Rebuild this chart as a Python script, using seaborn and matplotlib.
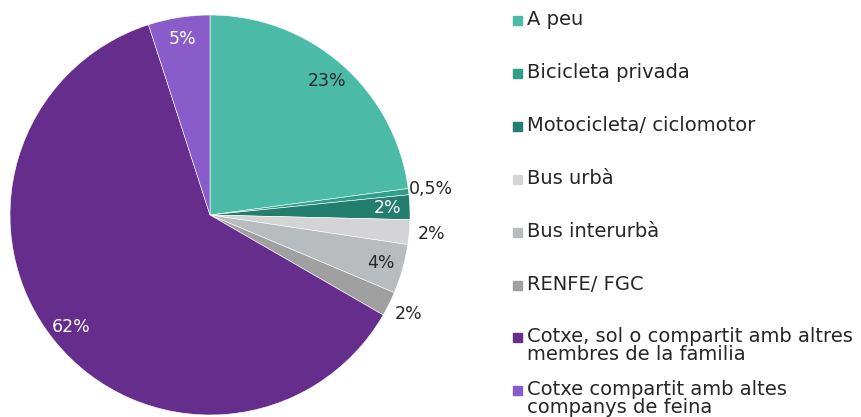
import numpy as np
import matplotlib
matplotlib.use("Agg")
import matplotlib.pyplot as plt
import matplotlib.patches as mpatches
import seaborn as sns

sns.set_theme(style="white")
plt.rcParams["font.family"] = ["DejaVu Sans"]

categories = [
    "A peu",
    "Bicicleta privada",
    "Motocicleta/ ciclomotor",
    "Bus urbà",
    "Bus interurbà",
    "RENFE/ FGC",
    "Cotxe, sol o compartit amb altres\nmembres de la familia",
    "Cotxe compartit amb altes\ncompanys de feina",
]
values = [23, 0.5, 2, 2, 4, 2, 62, 5]
pct_labels = ["23%", "0,5%", "2%", "2%", "4%", "2%", "62%", "5%"]
colours = [
    "#4bbba8", "#2f9e8a", "#237e6d", "#d4d4d6",
    "#b9bcbf", "#a0a0a0", "#652d8c", "#8a5cc9",
]
label_inside = [True, False, True, False, True, False, True, True]
label_colour = ["#262626", "#262626", "white", "#262626",
                "#262626", "#262626", "white", "white"]

W, H = 861, 417
fig = plt.figure(figsize=(W / 100, H / 100), dpi=100)
ax = fig.add_axes([10 / W, 2 / H, 400 / W, 400 / H])

wedges, _ = ax.pie(
    values,
    colors=colours,
    startangle=90,
    counterclock=False,
    wedgeprops=dict(edgecolor="white", linewidth=0.4),
)
ax.set_xlim(-1, 1)
ax.set_ylim(-1, 1)
ax.set_aspect("equal")

for w, txt, inside, col in zip(wedges, pct_labels, label_inside, label_colour):
    ang = np.deg2rad((w.theta1 + w.theta2) / 2)
    r = 0.89 if inside else 1.11
    ax.text(r * np.cos(ang), r * np.sin(ang), txt, ha="center", va="center",
            fontsize=12.5, color=col, clip_on=False)

# legend, placed by hand with fixed row pitch
for i, (lab, col) in enumerate(zip(categories, colours)):
    y = 20 + i * 52.9
    fig.add_artist(mpatches.Rectangle((513 / W, 1 - (y + 5) / H), 9 / W, 9 / H,
                                      color=col, transform=fig.transFigure))
    fig.text(527 / W, 1 - (y - 10) / H, lab, fontsize=14, color="#262626",
             ha="left", va="top", linespacing=0.93)

fig.savefig("out.png", dpi=100)
